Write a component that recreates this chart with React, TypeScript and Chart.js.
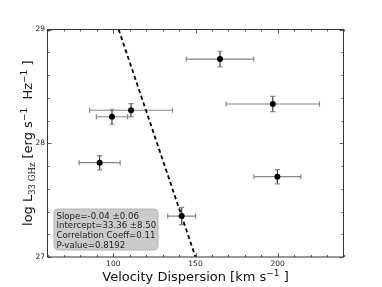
import React, { useEffect, useRef } from "react";
import { Chart, registerables } from "chart.js";

Chart.register(...registerables);

// ---- data ----
const velocity = [164.9, 197.0, 110.8, 99.2, 91.7, 199.8, 141.6];
const velocityErr = [20.5, 28.4, 25.2, 9.5, 12.5, 14.3, 8.5];
const logL = [28.74, 28.345, 28.29, 28.233, 27.829, 27.706, 27.36];
const logLErr = [0.069, 0.067, 0.059, 0.066, 0.063, 0.063, 0.076];

const xMajorTicks = [100, 150, 200];
const xMinorTicks = [60, 70, 80, 90, 110, 120, 130, 140, 160, 170, 180, 190, 210, 220, 230, 240];
const yMajorTicks = [27, 28, 29];
const yMinorTicks = [27.2, 27.4, 27.6, 27.8, 28.2, 28.4, 28.6, 28.8];

const fitSlope = -0.0428;
const fitIntercept = 33.42;

const statsLines = [
  "Slope=-0.04 \u00b10.06",
  "Intercept=33.36 \u00b18.50",
  "Correlation Coeff=0.11",
  "P-value=0.8192",
];

const X_MIN = 60;
const X_MAX = 240;
const Y_MIN = 27;
const Y_MAX = 29;

const FONT = "'DejaVu Sans', sans-serif";

type Seg = { t: string; size: number; dy: number; font?: string };

function segWidth(ctx: CanvasRenderingContext2D, segs: Seg[]) {
  let w = 0;
  for (const s of segs) {
    ctx.font = `${s.size}px ${s.font || FONT}`;
    w += ctx.measureText(s.t).width;
  }
  return w;
}

function drawSegs(ctx: CanvasRenderingContext2D, segs: Seg[], cx: number, baseY: number) {
  const total = segWidth(ctx, segs);
  let x = cx - total / 2;
  ctx.textAlign = "left";
  ctx.textBaseline = "alphabetic";
  for (const s of segs) {
    ctx.font = `${s.size}px ${s.font || FONT}`;
    ctx.fillText(s.t, x, baseY + s.dy);
    x += ctx.measureText(s.t).width;
  }
}

const decorPlugin = {
  id: "decor",
  beforeDatasetsDraw(chart: any) {
    const { ctx, scales } = chart;
    const x = scales.x;
    const y = scales.y;
    ctx.save();
    ctx.lineWidth = 1.2;
    const cap = 2.5;
    for (let i = 0; i < velocity.length; i++) {
      const px = x.getPixelForValue(velocity[i]);
      const py = y.getPixelForValue(logL[i]);
      const x0 = x.getPixelForValue(velocity[i] - velocityErr[i]);
      const x1 = x.getPixelForValue(velocity[i] + velocityErr[i]);
      const y0 = y.getPixelForValue(logL[i] - logLErr[i]);
      const y1 = y.getPixelForValue(logL[i] + logLErr[i]);
      ctx.strokeStyle = "#858585";
      ctx.beginPath();
      ctx.moveTo(x0, py);
      ctx.lineTo(x1, py);
      ctx.moveTo(x0, py - cap);
      ctx.lineTo(x0, py + cap);
      ctx.moveTo(x1, py - cap);
      ctx.lineTo(x1, py + cap);
      ctx.stroke();
      ctx.strokeStyle = "#3a3a3a";
      ctx.beginPath();
      ctx.moveTo(px, y0);
      ctx.lineTo(px, y1);
      ctx.stroke();
      ctx.strokeStyle = "#858585";
      ctx.beginPath();
      ctx.moveTo(px - cap, y0);
      ctx.lineTo(px + cap, y0);
      ctx.moveTo(px - cap, y1);
      ctx.lineTo(px + cap, y1);
      ctx.stroke();
    }
    ctx.restore();
  },
  afterDraw(chart: any) {
    const { ctx, chartArea, scales } = chart;
    const x = scales.x;
    const y = scales.y;
    const { left, right, top, bottom } = chartArea;
    ctx.save();
    // frame
    ctx.strokeStyle = "#333";
    ctx.lineWidth = 1;
    ctx.strokeRect(left, top, right - left, bottom - top);
    // ticks
    ctx.lineWidth = 0.8;
    ctx.beginPath();
    const xt = (vals: number[], len: number) => {
      for (const v of vals) {
        const p = Math.round(x.getPixelForValue(v)) + 0.5;
        ctx.moveTo(p, bottom);
        ctx.lineTo(p, bottom - len);
        ctx.moveTo(p, top);
        ctx.lineTo(p, top + len);
      }
    };
    const yt = (vals: number[], len: number) => {
      for (const v of vals) {
        const p = Math.round(y.getPixelForValue(v)) + 0.5;
        ctx.moveTo(left, p);
        ctx.lineTo(left + len, p);
        ctx.moveTo(right, p);
        ctx.lineTo(right - len, p);
      }
    };
    xt(xMajorTicks, 4);
    xt(xMinorTicks, 2);
    yt(yMajorTicks, 4);
    yt(yMinorTicks, 2);
    ctx.stroke();

    // stats box
    const bx = left + 6.5;
    const by = 209;
    const bw = 104;
    const bh = 41;
    ctx.fillStyle = "#cbcbcb";
    ctx.strokeStyle = "#b5b5b5";
    ctx.lineWidth = 1;
    ctx.beginPath();
    (ctx as any).roundRect(bx, by, bw, bh, 4);
    ctx.fill();
    ctx.stroke();
    ctx.fillStyle = "#222";
    ctx.font = `8.6px ${FONT}`;
    ctx.textAlign = "left";
    ctx.textBaseline = "alphabetic";
    statsLines.forEach((s, i) => {
      ctx.fillText(s, bx + 2.5, by + 9.5 + i * 9.7);
    });

    // axis titles
    ctx.fillStyle = "#111";
    const xSegs: Seg[] = [
      { t: "Velocity Dispersion [km s", size: 13, dy: 0 },
      { t: "\u22121", size: 9, dy: -5 },
      { t: " ]", size: 13, dy: 0 },
    ];
    drawSegs(ctx, xSegs, (left + right) / 2, 281);

    const ySegs: Seg[] = [
      { t: "log L", size: 13, dy: 0 },
      { t: "33 GHz", size: 8.5, dy: 2.5, font: "'DejaVu Serif', serif" },
      { t: " [erg s", size: 13, dy: 0 },
      { t: "\u22121", size: 9, dy: -5 },
      { t: "  Hz", size: 13, dy: 0 },
      { t: "\u22121", size: 9, dy: -5 },
      { t: " ]", size: 13, dy: 0 },
    ];
    ctx.translate(32, (top + bottom) / 2);
    ctx.rotate(-Math.PI / 2);
    drawSegs(ctx, ySegs, 0, 0);
    ctx.restore();
  },
};

export default function App() {
  const ref = useRef<HTMLCanvasElement | null>(null);
  useEffect(() => {
    document.body.style.margin = "0";
    const canvas = ref.current!;
    const fitYs = [Y_MAX, Y_MIN];
    const fitData = fitYs.map((v) => ({ x: (v - fitIntercept) / fitSlope, y: v }));
    const chart = new Chart(canvas, {
      type: "scatter",
      data: {
        datasets: [
          {
            type: "scatter",
            data: velocity.map((v, i) => ({ x: v, y: logL[i] })),
            pointRadius: 3,
            pointBackgroundColor: "#000",
            pointBorderColor: "#000",
            pointBorderWidth: 0,
            order: 0,
          },
          {
            type: "line",
            data: fitData,
            borderColor: "#000",
            borderWidth: 1.8,
            borderDash: [4, 3],
            pointRadius: 0,
            fill: false,
            order: 1,
          } as any,
        ],
      },
      options: {
        animation: false,
        responsive: false,
        maintainAspectRatio: false,
        events: [],
        layout: { padding: { top: 29.5, right: 38.5, left: 0, bottom: 0 } },
        plugins: { legend: { display: false }, tooltip: { enabled: false } },
        scales: {
          x: {
            type: "linear",
            min: X_MIN,
            max: X_MAX,
            grid: { display: false, drawTicks: false, tickLength: 0 },
            border: { display: false },
            afterBuildTicks: (a: any) => {
              a.ticks = xMajorTicks.map((v) => ({ value: v }));
            },
            afterFit: (s: any) => {
              s.height = 30;
            },
            ticks: {
              font: { family: "DejaVu Sans", size: 7.5 },
              color: "#222",
              padding: 2.5,
              maxRotation: 0,
              autoSkip: false,
            },
          },
          y: {
            type: "linear",
            min: Y_MIN,
            max: Y_MAX,
            grid: { display: false, drawTicks: false, tickLength: 0 },
            border: { display: false },
            afterBuildTicks: (a: any) => {
              a.ticks = yMajorTicks.map((v) => ({ value: v }));
            },
            afterFit: (s: any) => {
              s.width = 47.5;
            },
            ticks: {
              font: { family: "DejaVu Sans", size: 7.5 },
              color: "#222",
              padding: 2.5,
              autoSkip: false,
            },
          },
        },
      },
      plugins: [decorPlugin],
    });
    return () => chart.destroy();
  }, []);
  return <canvas ref={ref} width={382} height={287} style={{ display: "block", width: 382, height: 287 }} />;
}
